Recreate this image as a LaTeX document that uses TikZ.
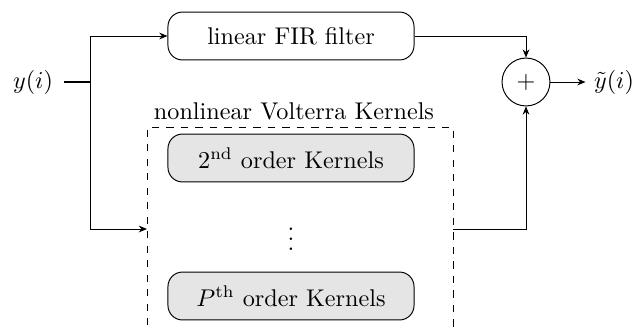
\documentclass[tikz,border=0pt]{standalone}
\usetikzlibrary{arrows.meta}
\begin{document}
\begin{tikzpicture}[x=0.4133pt,y=-0.4133pt,
  blockbox/.style={draw,rounded corners=6pt,minimum width=101.7pt,minimum height=19.8pt,inner sep=0pt},
  kernelbox/.style={blockbox,fill=black!10},
  sumnode/.style={draw,circle,minimum size=19.8pt,inner sep=0pt},
  arr/.style={-{Stealth[length=3.4pt,width=2.8pt]}},
  line width=0.4pt]
\useasboundingbox (0,0) rectangle (633,329);
\clip (0,0) rectangle (633,329);

% input and output labels
\node (in) at (33,82) {$y(i)$};
\coordinate (split) at (90,82);
\node (sum) at (526,82) [sumnode] {$+$};
\node (yout) at (614,82) {$\tilde{y}(i)$};

% linear branch
\node (fir) at (291,36) [blockbox] {linear FIR filter};

% nonlinear Volterra branch (box runs past the lower edge)
\coordinate (vtl) at (147,127);
\coordinate (vtr) at (453,127);
\coordinate (vbl) at (147,340);
\coordinate (vbr) at (453,340);
\draw[dashed] (vbl) -- (vtl) -- (vtr) -- (vbr);
\node (vlabel) at (294,111) {nonlinear Volterra Kernels};
\node (k2) at (291,158) [kernelbox] {$2^{\mathrm{nd}}$ order Kernels};
\node (dots) at (291,232) {$\vdots$};
\node (kP) at (291,296) [kernelbox] {$P^{\mathrm{th}}$ order Kernels};
\coordinate (vin) at (147,229);
\coordinate (vout) at (453,229);

% connectors
\draw[line width=0.8pt] (in.east) ++(1pt,0) -- (split);
\draw[arr] (split) |- (fir.west);
\draw[arr] (split) |- (vin);
\draw[arr] (fir.east) -| (sum.north);
\draw[arr] (vout) -| (sum.south);
\draw[arr] (sum.east) -- (yout.west);
\end{tikzpicture}
\end{document}
